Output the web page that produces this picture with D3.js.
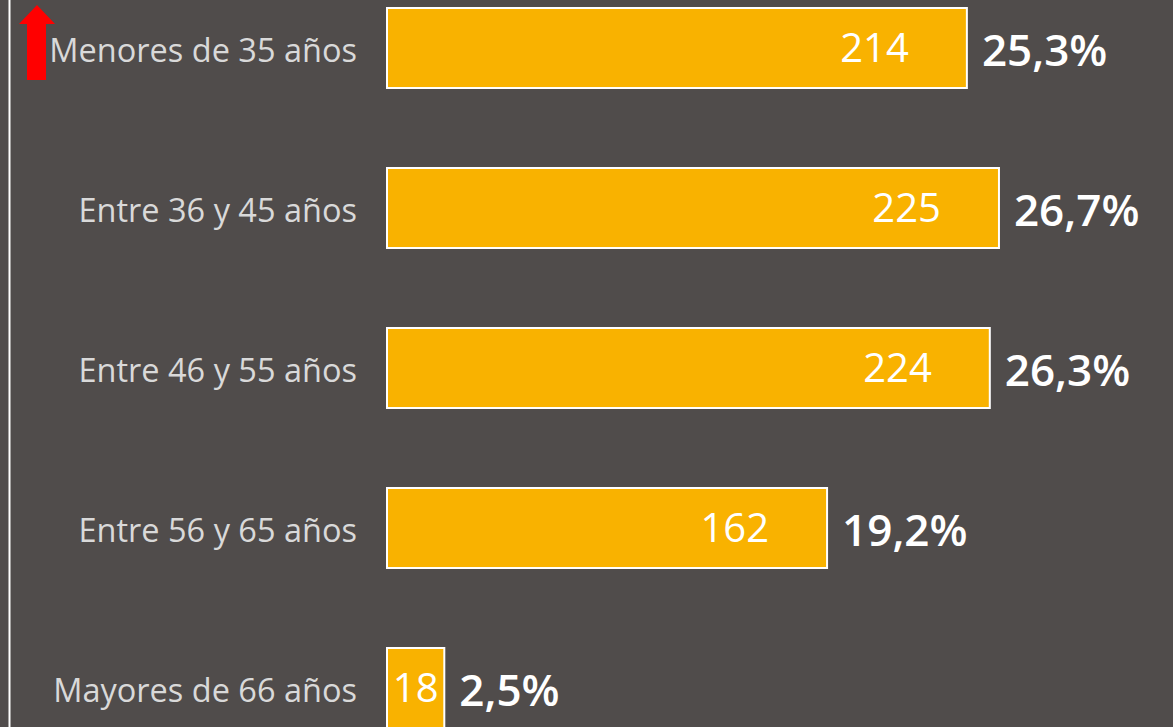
<!DOCTYPE html>
<html>
<head>
<meta charset="utf-8">
<script src="https://cdn.jsdelivr.net/npm/d3@7"></script>
<style>
  html, body { margin: 0; padding: 0; background: #504c4b; overflow: hidden; }
  svg { display: block; font-family: "Open Sans", "Noto Sans", sans-serif; }
</style>
</head>
<body>
<svg id="chart"></svg>
<script>
// data
const categories = ['Menores de 35 años', 'Entre 36 y 45 años', 'Entre 46 y 55 años', 'Entre 56 y 65 años', 'Mayores de 66 años']
const counts = [214, 225, 224, 162, 18]
const percents = [25.3, 26.7, 26.3, 19.2, 2.5]

const width = 1173
const height = 727

const data = categories.map((c, i) => ({category: c, count: counts[i], pct: percents[i]}))

const svg = d3.select('#chart')
  .attr('width', width)
  .attr('height', height)

// y scale (one band per age group)
const y = d3.scaleBand()
  .domain(categories)
  .range([8, 728])
  .paddingInner(0.5)
  .paddingOuter(0)

// x scale, bars are sized by the percentage
const x = d3.scaleLinear()
  .domain([0, 30])
  .range([387, 387 + 30 * 22.92])

// left vertical rule
svg.append('line')
  .attr('x1', 9.5).attr('x2', 9.5)
  .attr('y1', 0).attr('y2', height)
  .attr('stroke', '#ffffff')
  .attr('stroke-width', 2)

// red arrow
svg.append('path')
  .attr('d', 'M27,80 L27,24 L19,24 L37,5 L55,24 L46,24 L46,80 Z')
  .attr('fill', '#ff0000')

// category labels
svg.append('g')
  .selectAll('text')
  .data(data)
  .join('text')
    .attr('x', 357)
    .attr('y', d => y(d.category) + y.bandwidth() / 2)
    .attr('dy', '0.42em')
    .attr('text-anchor', 'end')
    .attr('fill', '#d9d9d9')
    .attr('font-size', '32.5px')
    .text(d => d.category)

// bars
svg.append('g')
  .selectAll('rect')
  .data(data)
  .join('rect')
    .attr('x', x(0))
    .attr('y', d => y(d.category))
    .attr('width', d => x(d.pct) - x(0))
    .attr('height', y.bandwidth())
    .attr('fill', '#f9b200')
    .attr('stroke', '#ffffff')
    .attr('stroke-width', 2)

// counts inside the bars
const narrow = d => (x(d.pct) - x(0)) < 120
svg.append('g')
  .selectAll('text')
  .data(data)
  .join('text')
    .attr('x', d => narrow(d) ? (x(0) + x(d.pct)) / 2 : x(d.pct) - 58)
    .attr('y', d => y(d.category) + y.bandwidth() / 2)
    .attr('dy', '0.36em')
    .attr('text-anchor', d => narrow(d) ? 'middle' : 'end')
    .attr('fill', '#ffffff')
    .attr('font-size', '40px')
    .text(d => d.count)

// percentages beside the bars
svg.append('g')
  .selectAll('text')
  .data(data)
  .join('text')
    .attr('x', d => x(d.pct) + 15)
    .attr('y', d => y(d.category) + y.bandwidth() / 2)
    .attr('dy', '0.42em')
    .attr('fill', '#ffffff')
    .attr('font-size', '44px')
    .attr('font-weight', 600)
    .text(d => d3.format('.1f')(d.pct).replace('.', ',') + '%')
</script>
</body>
</html>
